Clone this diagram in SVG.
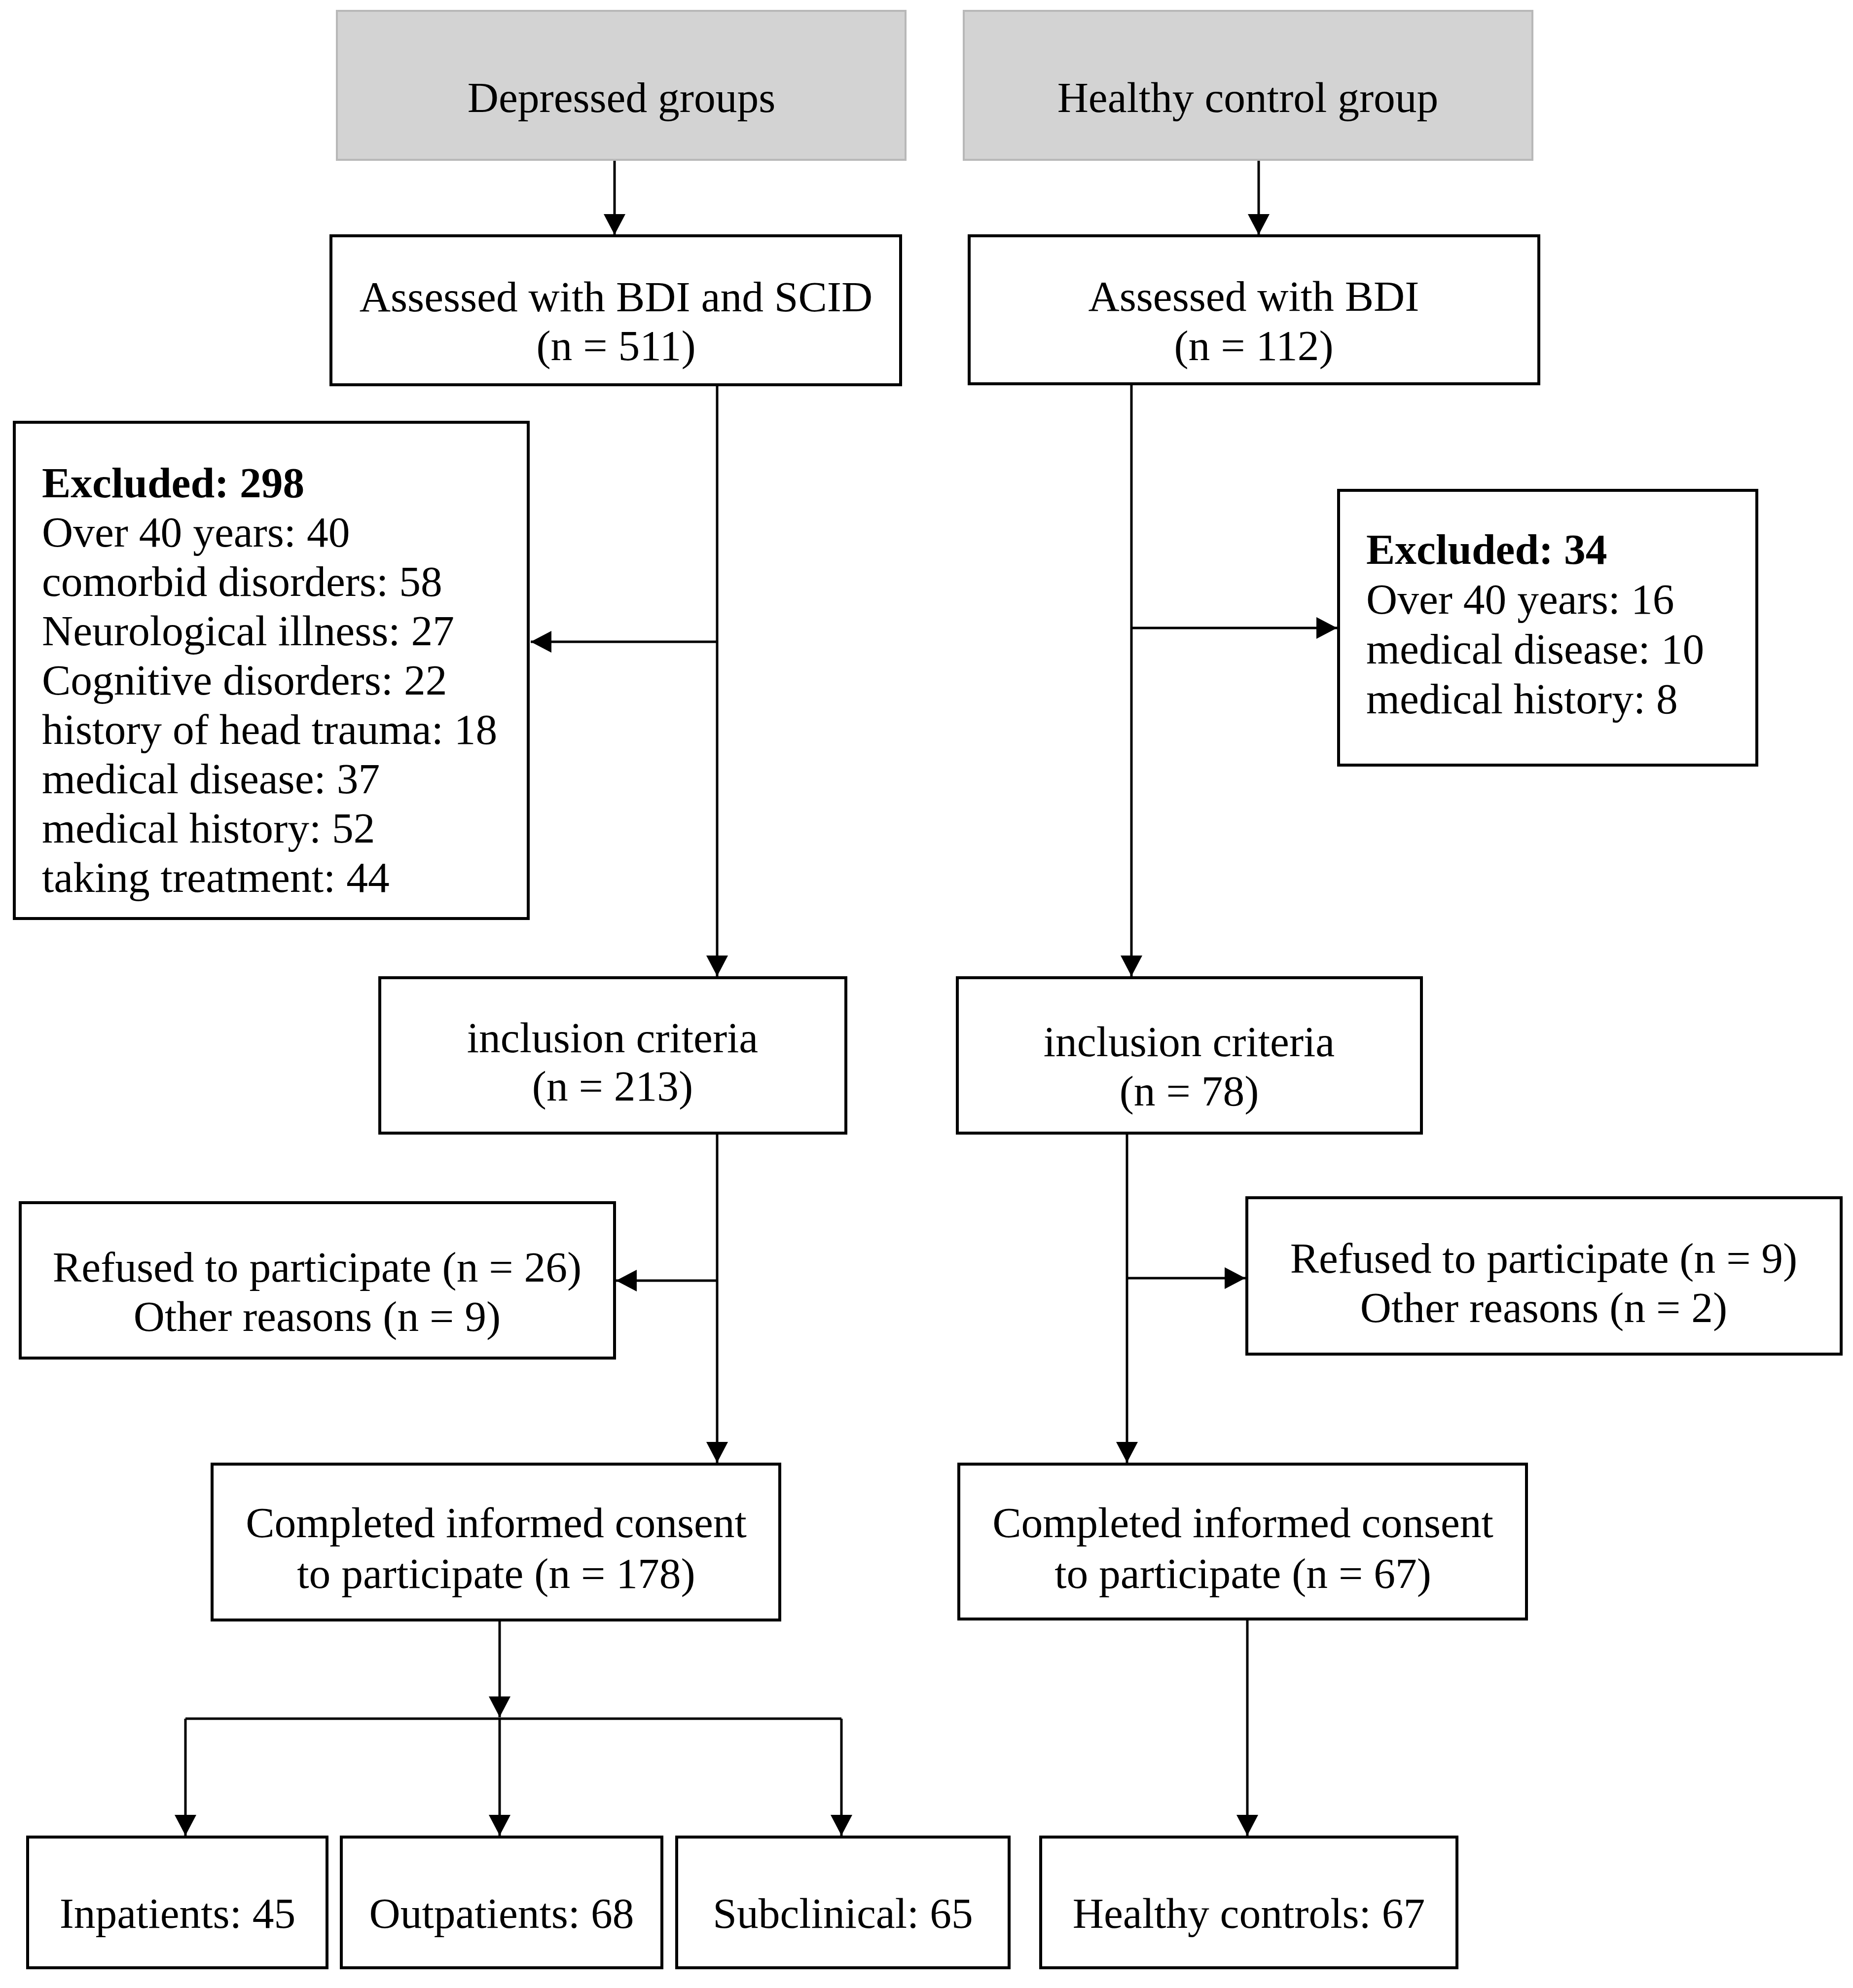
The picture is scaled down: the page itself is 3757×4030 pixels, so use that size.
<svg xmlns="http://www.w3.org/2000/svg" width="3757" height="4030" viewBox="0 0 3757 4030">
<style>
.box{fill:#ffffff;stroke:#000000;stroke-width:6}
.gray{fill:#d3d3d3;stroke:#b8b8b8;stroke-width:4}
.t{font-family:"Liberation Serif","Times New Roman",serif;font-size:87.5px;fill:#000000}
.c{text-anchor:middle}
.b{font-weight:bold}
.ln{fill:none;stroke:#000000;stroke-width:5}
.ar{marker-end:url(#ah)}
</style>
<defs>
<marker id="ah" viewBox="0 0 42 44" markerWidth="42" markerHeight="44" refX="42" refY="22" orient="auto" markerUnits="userSpaceOnUse">
<path d="M0,0 L42,22 L0,44 z" fill="#000000"/>
</marker>
</defs>
<rect width="3757" height="4030" fill="#ffffff"/>
<g id="connectors">
<line class="ln ar" x1="1246" y1="324" x2="1246" y2="476"/>
<line class="ln ar" x1="2552" y1="324" x2="2552" y2="476"/>
<line class="ln ar" x1="1454" y1="781" x2="1454" y2="1979"/>
<line class="ln ar" x1="1454" y1="1301" x2="1076" y2="1301"/>
<line class="ln ar" x1="2294" y1="778" x2="2294" y2="1979"/>
<line class="ln ar" x1="2294" y1="1273" x2="2711" y2="1273"/>
<line class="ln ar" x1="1454" y1="2297" x2="1454" y2="2965"/>
<line class="ln ar" x1="1454" y1="2596" x2="1249" y2="2596"/>
<line class="ln ar" x1="2285" y1="2297" x2="2285" y2="2965"/>
<line class="ln ar" x1="2285" y1="2591" x2="2525" y2="2591"/>
<line class="ln ar" x1="1013" y1="3284" x2="1013" y2="3481"/>
<line class="ln" x1="376" y1="3484" x2="1706" y2="3484"/>
<line class="ln ar" x1="376" y1="3484" x2="376" y2="3721"/>
<line class="ln ar" x1="1013" y1="3484" x2="1013" y2="3721"/>
<line class="ln ar" x1="1706" y1="3484" x2="1706" y2="3721"/>
<line class="ln ar" x1="2529" y1="3282" x2="2529" y2="3721"/>
</g>
<g id="depressed-groups">
<rect class="gray" x="683" y="22" width="1153" height="302"/>
<text class="t c" x="1260" y="227">Depressed groups</text>
</g>
<g id="healthy-control-group">
<rect class="gray" x="1954" y="22" width="1153" height="302"/>
<text class="t c" x="2530" y="227">Healthy control group</text>
</g>
<g id="assessed-bdi-scid">
<rect class="box" x="671" y="478" width="1155" height="302"/>
<text class="t c" x="1249" y="631">Assessed with BDI and SCID</text>
<text class="t c" x="1249" y="730">(n = 511)</text>
</g>
<g id="assessed-bdi">
<rect class="box" x="1965" y="478" width="1155" height="300"/>
<text class="t c" x="2542" y="630">Assessed with BDI</text>
<text class="t c" x="2542" y="730">(n = 112)</text>
</g>
<g id="excluded-298">
<rect class="box" x="29" y="856" width="1042" height="1006"/>
<text class="t b" x="85" y="1008">Excluded: 298</text>
<text class="t" x="85" y="1108">Over 40 years: 40</text>
<text class="t" x="85" y="1208">comorbid disorders: 58</text>
<text class="t" x="85" y="1308">Neurological illness: 27</text>
<text class="t" x="85" y="1408">Cognitive disorders: 22</text>
<text class="t" x="85" y="1508">history of head trauma: 18</text>
<text class="t" x="85" y="1608">medical disease: 37</text>
<text class="t" x="85" y="1708">medical history: 52</text>
<text class="t" x="85" y="1808">taking treatment: 44</text>
</g>
<g id="excluded-34">
<rect class="box" x="2714" y="994" width="848" height="557"/>
<text class="t b" x="2770" y="1143">Excluded: 34</text>
<text class="t" x="2770" y="1244">Over 40 years: 16</text>
<text class="t" x="2770" y="1345">medical disease: 10</text>
<text class="t" x="2770" y="1446">medical history: 8</text>
</g>
<g id="inclusion-left">
<rect class="box" x="770" y="1982" width="945" height="315"/>
<text class="t c" x="1242" y="2133">inclusion criteria</text>
<text class="t c" x="1242" y="2231">(n = 213)</text>
</g>
<g id="inclusion-right">
<rect class="box" x="1941" y="1982" width="941" height="315"/>
<text class="t c" x="2411" y="2141">inclusion criteria</text>
<text class="t c" x="2411" y="2241">(n = 78)</text>
</g>
<g id="refused-left">
<rect class="box" x="41" y="2438" width="1205" height="315"/>
<text class="t c" x="643" y="2598">Refused to participate (n = 26)</text>
<text class="t c" x="643" y="2698">Other reasons (n = 9)</text>
</g>
<g id="refused-right">
<rect class="box" x="2528" y="2428" width="1205" height="317"/>
<text class="t c" x="3130" y="2580">Refused to participate (n = 9)</text>
<text class="t c" x="3130" y="2680">Other reasons (n = 2)</text>
</g>
<g id="consent-left">
<rect class="box" x="430" y="2968" width="1151" height="316"/>
<text class="t c" x="1006" y="3116">Completed informed consent</text>
<text class="t c" x="1006" y="3219">to participate (n = 178)</text>
</g>
<g id="consent-right">
<rect class="box" x="1944" y="2968" width="1151" height="314"/>
<text class="t c" x="2520" y="3116">Completed informed consent</text>
<text class="t c" x="2520" y="3219">to participate (n = 67)</text>
</g>
<g id="inpatients">
<rect class="box" x="56" y="3724" width="607" height="265"/>
<text class="t c" x="360" y="3908">Inpatients: 45</text>
</g>
<g id="outpatients">
<rect class="box" x="692" y="3724" width="650" height="265"/>
<text class="t c" x="1017" y="3908">Outpatients: 68</text>
</g>
<g id="subclinical">
<rect class="box" x="1372" y="3724" width="674" height="265"/>
<text class="t c" x="1709" y="3908">Subclinical: 65</text>
</g>
<g id="healthy-controls">
<rect class="box" x="2110" y="3724" width="844" height="265"/>
<text class="t c" x="2532" y="3908">Healthy controls: 67</text>
</g>
</svg>
